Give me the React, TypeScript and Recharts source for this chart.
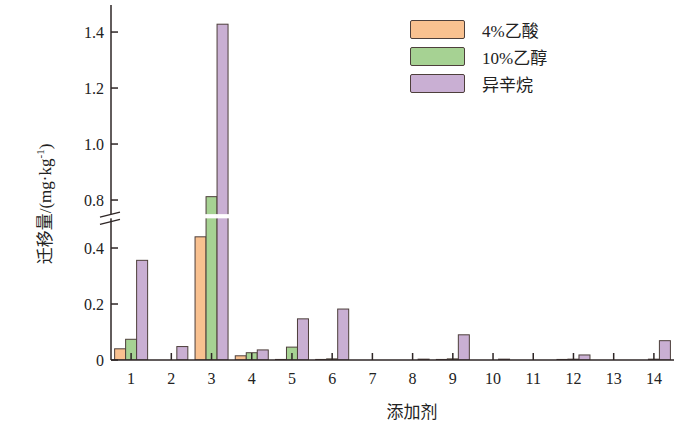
import React from "react"
import {
  BarChart,
  Bar,
  XAxis,
  YAxis,
  ReferenceArea,
  Label,
} from "recharts"

const categories = ["1", "2", "3", "4", "5", "6", "7", "8", "9", "10", "11", "12", "13", "14"]
const acetic = [0.04, 0, 0.44, 0.015, 0.002, 0.002, 0, 0, 0.002, 0, 0, 0.002, 0, 0]
const ethanol = [0.074, 0, 0.812, 0.026, 0.046, 0.004, 0, 0, 0.004, 0, 0, 0.003, 0, 0.003]
const isooctane = [0.356, 0.048, 1.428, 0.036, 0.147, 0.182, 0, 0.003, 0.09, 0.003, 0, 0.018, 0, 0.069]
const yTickValues = [0, 0.2, 0.4, 0.8, 1.0, 1.2, 1.4]
const yTickLabels = ["0", "0.2", "0.4", "0.8", "1.0", "1.2", "1.4"]

// broken axis: values above the break are shifted down
const BREAK_SHIFT = 0.2286
const BREAK_LO = 0.506
const BREAK_HI = 0.521
const squash = (v: number) => (v > 0.6 ? v - BREAK_SHIFT : v)

const series = [
  { key: "acetic", name: "4%乙酸", color: "#f9c190" },
  { key: "ethanol", name: "10%乙醇", color: "#a6d293" },
  { key: "isooctane", name: "异辛烷", color: "#c9afd3" },
]

const data = categories.map((c, i) => ({
  name: c,
  acetic: squash(acetic[i]),
  ethanol: squash(ethanol[i]),
  isooctane: squash(isooctane[i]),
}))

const ink = "#2e2626"
const barStroke = "#4d3f3b"
const serif = "Liberation Serif, DejaVu Serif, Times New Roman, serif"
const cjk = "Noto Sans CJK SC, sans-serif"

const XTick = (props: any) => {
  const { x, y, payload } = props
  return (
    <g>
      <line x1={x} x2={x} y1={y} y2={y - 7} stroke={ink} strokeWidth={1.5} />
      <text x={x} y={y + 24} textAnchor="middle" style={{ fontFamily: serif }} fontSize={16} fill="#222">
        {payload.value}
      </text>
    </g>
  )
}

const YTick = (props: any) => {
  const { x, y, index } = props
  return (
    <g>
      <line x1={x} x2={x + 7} y1={y} y2={y} stroke={ink} strokeWidth={1.5} />
      <text x={x - 7} y={y + 6} textAnchor="end" style={{ fontFamily: serif }} fontSize={16} fill="#222">
        {yTickLabels[index]}
      </text>
    </g>
  )
}

// bar with a white gap where it crosses the axis break
const BrokenBar = (props: any) => {
  const { x, y, width, height, fill, value } = props
  if (!height || height <= 0) return null
  const v = Array.isArray(value) ? value[1] : value
  const bottom = y + height
  const ppu = height / v
  const gapTop = bottom - BREAK_HI * ppu
  const gapBottom = bottom - BREAK_LO * ppu
  if (v <= BREAK_HI) {
    return <rect x={x} y={y} width={width} height={height} fill={fill} stroke={barStroke} strokeWidth={1} />
  }
  return (
    <g>
      <rect x={x} y={y} width={width} height={height} fill={fill} stroke={barStroke} strokeWidth={1} />
      <rect x={x - 1} y={gapTop} width={width + 2} height={gapBottom - gapTop} fill="#fff" />
    </g>
  )
}

const BreakMark = (props: any) => {
  const { x, y, height } = props
  return (
    <g>
      <rect x={x - 3} y={y} width={6} height={height} fill="#fff" />
      <line x1={x - 11} y1={y + 3} x2={x + 9} y2={y - 2} stroke={ink} strokeWidth={1.3} />
      <line x1={x - 11} y1={y + height + 6} x2={x + 9} y2={y + height + 1} stroke={ink} strokeWidth={1.3} />
    </g>
  )
}

export default function App() {
  return (
    <div style={{ position: "absolute", left: 0, top: 0, width: 700, height: 433, background: "#fff" }}>
      <BarChart
        width={700}
        height={433}
        data={data}
        margin={{ top: 5, right: 26, bottom: 33, left: 51 }}
        barCategoryGap="9%"
        barGap={0}
      >
        {series.map((s) => (
          <Bar
            key={s.key}
            dataKey={s.key}
            name={s.name}
            fill={s.color}
            shape={<BrokenBar />}
            isAnimationActive={false}
          />
        ))}
        <XAxis
          dataKey="name"
          height={40}
          tick={<XTick />}
          tickLine={false}
          tickSize={0}
          tickMargin={0}
          interval={0}
          axisLine={{ stroke: ink, strokeWidth: 1.5 }}
        >
          <Label
            content={() => (
              <text x={412} y={418} textAnchor="middle" style={{ fontFamily: cjk }} fontSize={17} fill="#222">
                添加剂
              </text>
            )}
          />
        </XAxis>
        <YAxis
          width={60}
          domain={[0, 1.268]}
          ticks={yTickValues.map(squash)}
          tick={<YTick />}
          tickLine={false}
          tickSize={0}
          tickMargin={0}
          interval={0}
          axisLine={{ stroke: ink, strokeWidth: 1.5 }}
          allowDataOverflow
        >
          <Label
            content={() => (
              <text
                x={51}
                y={204}
                transform="rotate(-90 51 204)"
                textAnchor="middle"
                fontSize={17}
                fill="#222"
              >
                <tspan style={{ fontFamily: cjk }}>迁移量</tspan>
                <tspan style={{ fontFamily: serif }}>/(mg·kg</tspan>
                <tspan style={{ fontFamily: serif }} fontSize={11} dy={-7}>-1</tspan>
                <tspan style={{ fontFamily: serif }} dy={7}>)</tspan>
              </text>
            )}
          />
        </YAxis>
        <ReferenceArea
          y1={BREAK_LO}
          y2={BREAK_HI}
          shape={<BreakMark />}
          ifOverflow="visible"
          zIndex={2000}
        />
      </BarChart>
      <div style={{ position: "absolute", left: 410, top: 16 }}>
        {series.map((s) => (
          <div key={s.key} style={{ display: "flex", alignItems: "center", height: 27 }}>
            <div
              style={{
                width: 55,
                height: 19,
                background: s.color,
                border: `1.5px solid ${barStroke}`,
                borderRadius: 2,
                boxSizing: "border-box",
              }}
            />
            <span style={{ marginLeft: 17, fontSize: 17, color: "#222" }}>
              {s.name.split("").map((ch, i) => (
                <span key={i} style={{ fontFamily: /[0-9%]/.test(ch) ? serif : cjk }}>
                  {ch}
                </span>
              ))}
            </span>
          </div>
        ))}
      </div>
    </div>
  )
}
